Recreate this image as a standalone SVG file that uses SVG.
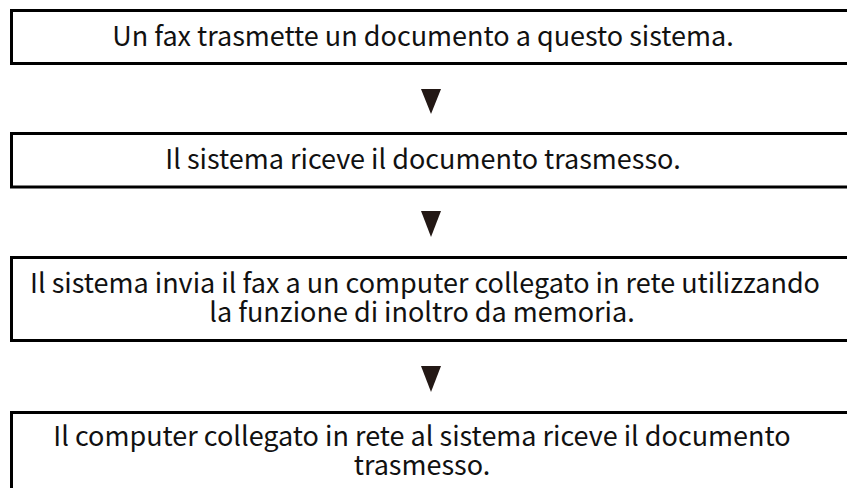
<svg xmlns="http://www.w3.org/2000/svg" width="847" height="488" viewBox="0 0 847 488">
<style>
.box{fill:#fff;stroke:#000;stroke-width:3}
.t{font-family:"Noto Sans CJK JP","Noto Sans",sans-serif;font-size:27px;fill:#111;text-anchor:middle}
.arr{fill:#231815}
</style>
<rect width="847" height="488" fill="#fff"/>
<g id="node1">
<rect class="box" x="11.5" y="10.5" width="850" height="53"/>
<text class="t" x="423" y="46">Un fax trasmette un documento a questo sistema.</text>
</g>
<g id="node2">
<rect class="box" x="11.5" y="133.5" width="850" height="53.5"/>
<text class="t" x="423" y="169">Il sistema riceve il documento trasmesso.</text>
</g>
<g id="node3">
<rect class="box" x="11.5" y="257.5" width="850" height="83"/>
<text class="t"><tspan x="425" y="293">Il sistema invia il fax a un computer collegato in rete utilizzando</tspan><tspan x="422" y="322">la funzione di inoltro da memoria.</tspan></text>
</g>
<g id="node4">
<rect class="box" x="11.5" y="412.5" width="850" height="100"/>
<text class="t"><tspan x="422" y="446">Il computer collegato in rete al sistema riceve il documento</tspan><tspan x="422" y="475">trasmesso.</tspan></text>
</g>
<g id="connectors">
<polygon class="arr" points="421,89 441,89 431,114"/>
<polygon class="arr" points="421,211 441,211 431,237"/>
<polygon class="arr" points="421,366 441,366 431,392"/>
</g>
</svg>
